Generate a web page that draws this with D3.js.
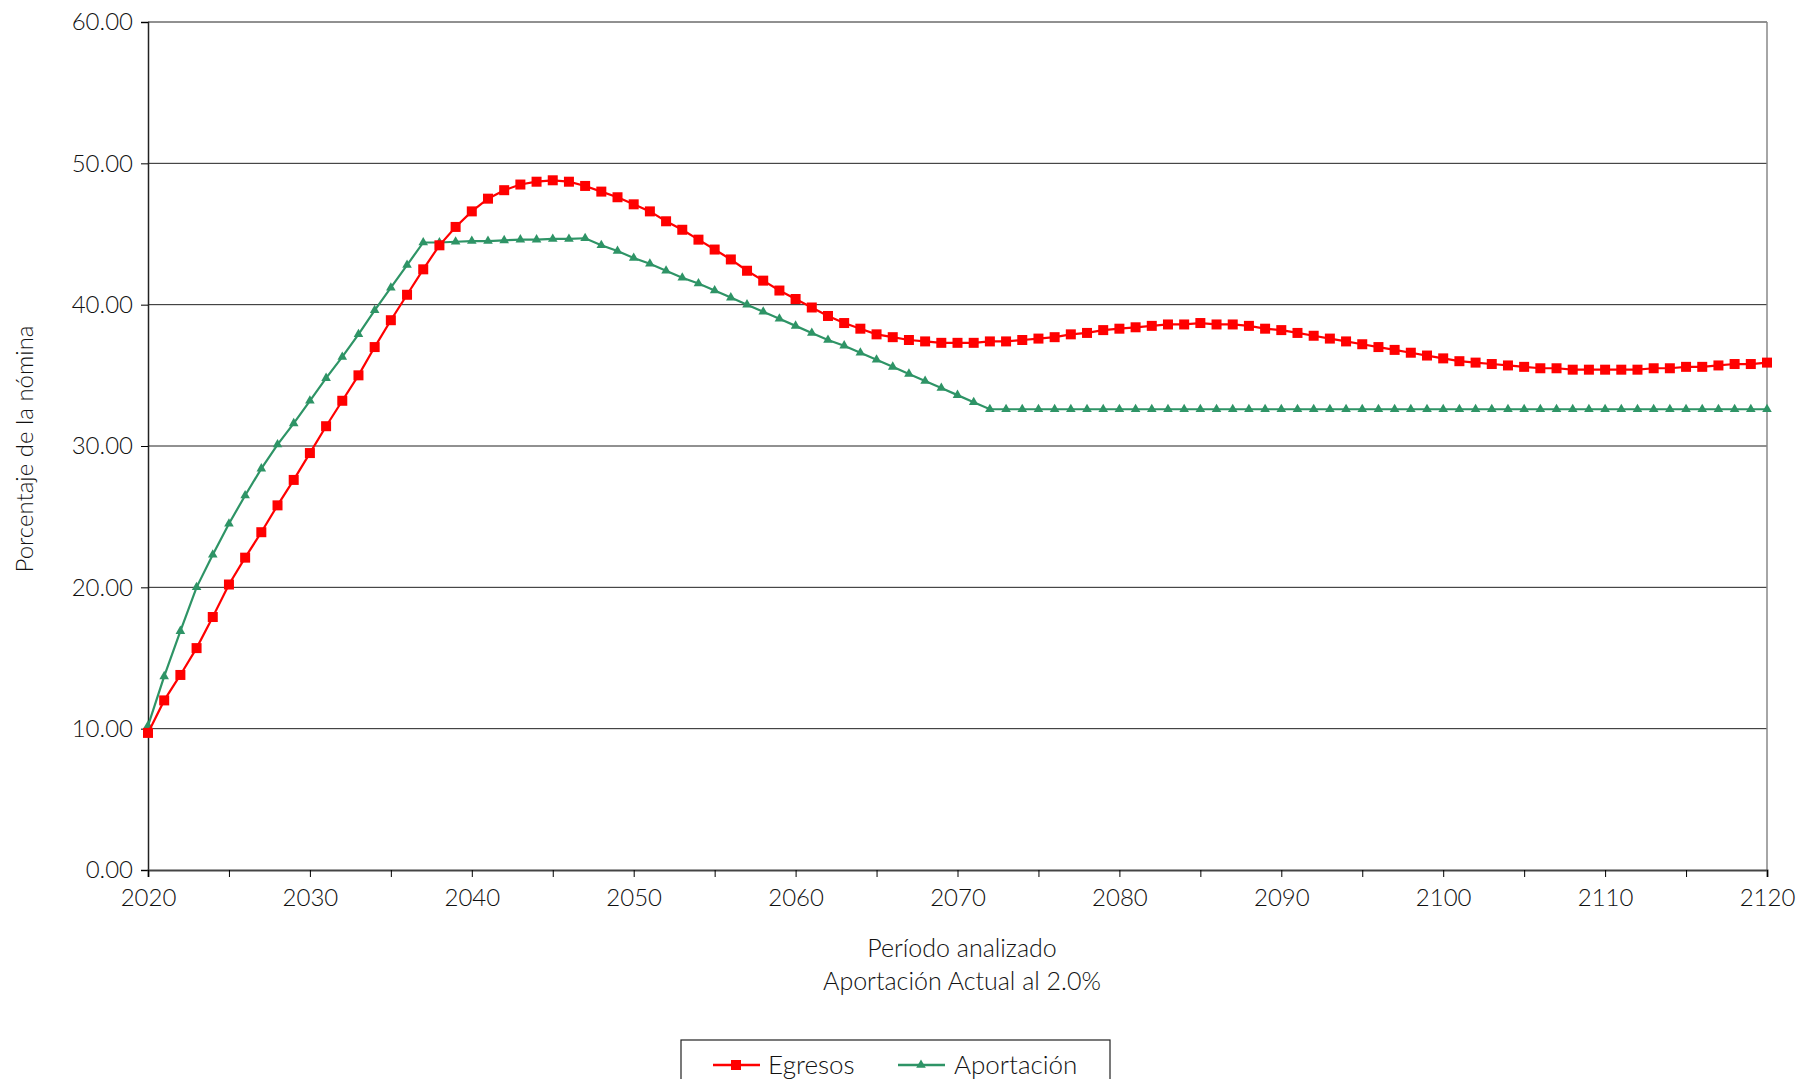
<!DOCTYPE html>
<html><head><meta charset="utf-8">
<script src="https://cdn.jsdelivr.net/npm/d3@7"></script>
<style>body{margin:0;background:#fff;} text{font-family:Lato,"Open Sans",sans-serif;font-weight:300;fill:#111;}</style>
</head><body><svg id="c" width="1820" height="1079"></svg>
<script>
const years = d3.range(2020, 2121);
const egresos = [9.7,12.0,13.8,15.7,17.9,20.2,22.1,23.9,25.8,27.6,29.5,31.4,33.2,35.0,37.0,38.9,40.7,42.5,44.2,45.5,46.6,47.5,48.1,48.5,48.7,48.8,48.7,48.4,48.0,47.6,47.1,46.6,45.9,45.3,44.6,43.9,43.2,42.4,41.7,41.0,40.4,39.8,39.2,38.7,38.3,37.9,37.7,37.5,37.4,37.3,37.3,37.3,37.4,37.4,37.5,37.6,37.7,37.9,38.0,38.2,38.3,38.4,38.5,38.6,38.6,38.7,38.6,38.6,38.5,38.3,38.2,38.0,37.8,37.6,37.4,37.2,37.0,36.8,36.6,36.4,36.2,36.0,35.9,35.8,35.7,35.6,35.5,35.5,35.4,35.4,35.4,35.4,35.4,35.5,35.5,35.6,35.6,35.7,35.8,35.8,35.9];
const aportacionHead = [10.2,13.7,16.9,20.0,22.3,24.5,26.5,28.4,30.1,31.6,33.2,34.8,36.3,37.9,39.6,41.2,42.8,44.4,44.4,44.45,44.5,44.5,44.55,44.6,44.6,44.65,44.65,44.7,44.2,43.8,43.3,42.9,42.4,41.9,41.5,41.0,40.5,40.0,39.5,39.0,38.5,38.0,37.5,37.1,36.6,36.1,35.6,35.1,34.6,34.1,33.6,33.1,32.6];
const aportacionTail = [32.6,32.6,32.6,32.6,32.6,32.6,32.6,32.6,32.6,32.6,32.6,32.6,32.6,32.6,32.6,32.6,32.6,32.6,32.6,32.6,32.6,32.6,32.6,32.6,32.6,32.6,32.6,32.6,32.6,32.6,32.6,32.6,32.6,32.6,32.6,32.6,32.6,32.6,32.6,32.6,32.6,32.6,32.6,32.6,32.6,32.6,32.6,32.6];
const aportacion = aportacionHead.concat(aportacionTail);
const yTicks = [0,10,20,30,40,50,60];

const svg = d3.select("#c");
const L=148,R=1767,T=22,B=870;
const x = d3.scaleLinear().domain([2020,2120]).range([L,R]);
const y = d3.scaleLinear().domain([0,60]).range([B,T]);

svg.append("g").selectAll("line").data(yTicks.slice(1)).join("line")
  .attr("x1",L).attr("x2",R).attr("y1",d=>y(d)).attr("y2",d=>y(d)).attr("stroke","#222").attr("stroke-width",1);
svg.append("line").attr("x1",R).attr("x2",R).attr("y1",T).attr("y2",B).attr("stroke","#888").attr("stroke-width",1.5);

const ya = svg.append("g").attr("transform",`translate(${L},0)`)
  .call(d3.axisLeft(y).tickValues(yTicks).tickFormat(d3.format(".2f")).tickSize(7).tickPadding(8));
ya.select(".domain").attr("stroke","#222").attr("stroke-width",1.5);
ya.selectAll("text").style("font-size","24px");
const xa = svg.append("g").attr("transform",`translate(0,${B})`)
  .call(d3.axisBottom(x).tickValues(d3.range(2020,2121,5)).tickFormat(d=>d%10===0?d:"").tickSize(7).tickPadding(12));
xa.select(".domain").attr("stroke","#444").attr("stroke-width",2);
xa.selectAll("text").style("font-size","24px");

svg.append("text").attr("x",962).attr("y",957).attr("text-anchor","middle").style("font-size","25px").text("Período analizado");
svg.append("text").attr("x",962).attr("y",990).attr("text-anchor","middle").style("font-size","25px").text("Aportación Actual al 2.0%");
svg.append("text").attr("transform","translate(33,449) rotate(-90)").attr("text-anchor","middle").style("font-size","24px").text("Porcentaje de la nómina");

const line = d3.line().x((d,i)=>x(years[i])).y(d=>y(d));
const red="#f00", green="#2e9466";
svg.append("path").attr("d",line(aportacion)).attr("fill","none").attr("stroke",green).attr("stroke-width",2.2);
svg.append("g").selectAll("path").data(aportacion).join("path")
  .attr("d",d3.symbol(d3.symbolTriangle,40)).attr("transform",(d,i)=>`translate(${x(years[i])},${y(d)})`).attr("fill",green);
svg.append("path").attr("d",line(egresos)).attr("fill","none").attr("stroke",red).attr("stroke-width",2.2);
svg.append("g").selectAll("rect").data(egresos).join("rect")
  .attr("x",(d,i)=>x(years[i])-5).attr("y",d=>y(d)-5).attr("width",10).attr("height",10).attr("fill",red);

const lg = svg.append("g");
lg.append("rect").attr("x",681).attr("y",1040).attr("width",429).attr("height",60).attr("fill","#fff").attr("stroke","#222").attr("stroke-width",1.2);
lg.append("line").attr("x1",713).attr("x2",760).attr("y1",1065).attr("y2",1065).attr("stroke",red).attr("stroke-width",2.5);
lg.append("rect").attr("x",731).attr("y",1060).attr("width",10).attr("height",10).attr("fill",red);
lg.append("text").attr("x",768).attr("y",1074).style("font-size","26px").text("Egresos");
lg.append("line").attr("x1",898).attr("x2",945).attr("y1",1065).attr("y2",1065).attr("stroke",green).attr("stroke-width",2.5);
lg.append("path").attr("d",d3.symbol(d3.symbolTriangle,40)).attr("transform","translate(921,1065)").attr("fill",green);
lg.append("text").attr("x",954).attr("y",1074).style("font-size","26px").text("Aportación");
</script></body></html>
